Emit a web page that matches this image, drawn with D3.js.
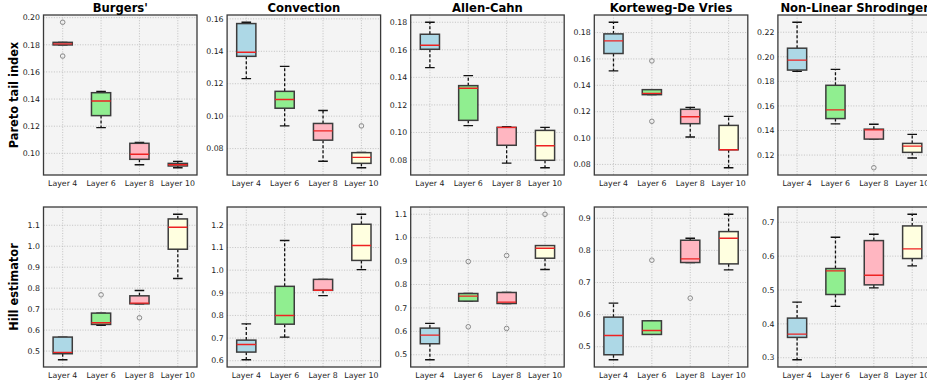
<!DOCTYPE html>
<html><head><meta charset="utf-8">
<script src="https://cdn.jsdelivr.net/npm/d3@7"></script>
<style>body{margin:0;background:#fff}svg{display:block;font-family:"DejaVu Sans",sans-serif}</style>
</head><body>
<script>
const problems = ["Burgers'", "Convection", "Allen-Cahn", "Korteweg-De Vries", "Non-Linear Shrodinger"];
const layers = ["Layer 4", "Layer 6", "Layer 8", "Layer 10"];
const metrics = ["Pareto tail index", "Hill estimator"];
const boxColors = ["#add8e6", "#90ee90", "#ffb6c1", "#ffffe0"];

// Pareto tail index: [problem][layer]
const paretoLo  = [[0.1799,0.1189,0.0916,0.0894],[0.1231,0.0940,0.0722,0.0682],[0.1471,0.1049,0.0778,0.0744],[0.1509,0.1329,0.1008,0.0775],[0.1881,0.1454,0.1330,0.1176]];
const paretoQ1  = [[0.1799,0.1278,0.0956,0.0907],[0.1369,0.1049,0.0852,0.0709],[0.1604,0.1088,0.0907,0.0798],[0.1641,0.1329,0.1109,0.0911],[0.1892,0.1497,0.1330,0.1222]];
const paretoMed = [[0.1807,0.1386,0.0993,0.0916],[0.1394,0.1103,0.0909,0.0746],[0.1633,0.1321,0.1037,0.0904],[0.1737,0.1339,0.1162,0.0911],[0.1973,0.1568,0.1405,0.1273]];
const paretoQ3  = [[0.1818,0.1447,0.1074,0.0926],[0.1571,0.1153,0.0955,0.0775],[0.1713,0.1340,0.1037,0.1015],[0.1790,0.1367,0.1218,0.1096],[0.2070,0.1768,0.1411,0.1295]];
const paretoHi  = [[0.1818,0.1457,0.1081,0.0941],[0.1579,0.1307,0.1035,0.0777],[0.1800,0.1413,0.1042,0.1037],[0.1878,0.1367,0.1233,0.1165],[0.2281,0.1897,0.1451,0.1368]];
const paretoOut = [[[0.1966,0.1717],[],[],[]],[[],[],[],[0.0940]],[[],[],[],[]],[[],[0.1585,0.1127],[],[]],[[],[],[0.1097],[]]];

// Hill estimator: [problem][layer]
const hillLo  = [[0.4587,0.6222,0.7254,0.8460],[0.6044,0.7042,0.8875,1.0020],[0.4787,0.7289,0.7189,0.8640],[0.4596,0.5383,0.7622,0.7394],[0.2941,0.4514,0.5064,0.5713]];
const hillQ1  = [[0.4873,0.6270,0.7254,0.9857],[0.6382,0.7614,0.9110,1.0430],[0.5469,0.7289,0.7189,0.9123],[0.4751,0.5383,0.7622,0.7580],[0.3600,0.4867,0.5152,0.5929]];
const hillMed = [[0.4937,0.6349,0.7286,1.0905],[0.6719,0.7995,0.9110,1.1090],[0.5839,0.7502,0.7246,0.9550],[0.5352,0.5508,0.7736,0.8378],[0.3698,0.5565,0.5437,0.6214]];
const hillQ3  = [[0.5667,0.6810,0.7635,1.1302],[0.6910,0.9286,0.9594,1.2029],[0.6137,0.7616,0.7659,0.9663],[0.5922,0.5808,0.8316,0.8585],[0.4170,0.5634,0.6459,0.6892]];
const hillHi  = [[0.5667,0.6810,0.7889,1.1524],[0.7629,1.1311,0.9594,1.2469],[0.6336,0.7616,0.7659,0.9663],[0.6358,0.5808,0.8378,0.9124],[0.4641,0.6558,0.6646,0.7236]];
const hillOut = [[[],[0.7683],[0.6587],[]],[[],[],[],[]],[[],[0.8981,0.6194],[0.9237,0.6123],[1.1]],[[],[0.7694],[0.6513],[]],[[],[],[],[]]];

// tick values per panel
const paretoTicks = [[0.10,0.12,0.14,0.16,0.18,0.20],[0.08,0.10,0.12,0.14,0.16],[0.08,0.10,0.12,0.14,0.16,0.18],[0.08,0.10,0.12,0.14,0.16,0.18],[0.12,0.14,0.16,0.18,0.20,0.22]];
const hillTicks = [[0.5,0.6,0.7,0.8,0.9,1.0,1.1],[0.6,0.7,0.8,0.9,1.0,1.1,1.2],[0.5,0.6,0.7,0.8,0.9,1.0,1.1],[0.5,0.6,0.7,0.8,0.9],[0.3,0.4,0.5,0.6,0.7]];

const W = 927, H = 385;
const svg = d3.select("body").append("svg").attr("width", W).attr("height", H);

const rows = [
  {lo: paretoLo, q1: paretoQ1, med: paretoMed, q3: paretoQ3, hi: paretoHi, out: paretoOut, ticks: paretoTicks, fmt: d3.format(".2f"), top: 15, bottom: 175},
  {lo: hillLo, q1: hillQ1, med: hillMed, q3: hillQ3, hi: hillHi, out: hillOut, ticks: hillTicks, fmt: d3.format(".1f"), top: 207, bottom: 367}
];
const left0 = 43.5, step = 183.6, pw = 153.5;

rows.forEach((row, ri) => {
  problems.forEach((prob, pi) => {
    const x0 = left0 + pi * step;
    const g = svg.append("g");
    // domain like matplotlib autoscale (5% margin)
    const vals = [].concat(row.lo[pi], row.hi[pi], ...row.out[pi]);
    const mn = d3.min(vals), mx = d3.max(vals), pad = (mx - mn) * 0.05;
    const y = d3.scaleLinear().domain([mn - pad, mx + pad]).range([row.bottom, row.top]);
    const x = d3.scaleLinear().domain([0.5, 4.5]).range([x0, x0 + pw]);
    const band = x(1.25) - x(1);

    g.append("rect").attr("x", x0).attr("y", row.top).attr("width", pw).attr("height", row.bottom - row.top).attr("fill", "#f4f4f4");

    // grid
    const clipId = `c${ri}${pi}`;
    g.append("clipPath").attr("id", clipId).append("rect").attr("x", x0).attr("y", row.top).attr("width", pw).attr("height", row.bottom - row.top);
    const grid = g.append("g").attr("clip-path", `url(#${clipId})`);
    row.ticks[pi].forEach(t => {
      grid.append("line").attr("x1", x0).attr("x2", x0 + pw).attr("y1", y(t)).attr("y2", y(t))
        .attr("stroke", "#b5b5b5").attr("stroke-width", 0.8).attr("stroke-dasharray", "1,1.6");
    });
    layers.forEach((l, li) => {
      grid.append("line").attr("x1", x(li + 1)).attr("x2", x(li + 1)).attr("y1", row.top).attr("y2", row.bottom)
        .attr("stroke", "#b5b5b5").attr("stroke-width", 0.8).attr("stroke-dasharray", "1,1.6");
    });

    // boxes
    const marks = g.append("g").attr("clip-path", `url(#${clipId})`);
    layers.forEach((l, li) => {
      const cx = x(li + 1);
      const bw = band * 2; // box width 0.5
      const cw = band;     // cap width 0.25
      const lo = row.lo[pi][li], q1 = row.q1[pi][li], med = row.med[pi][li], q3 = row.q3[pi][li], hi = row.hi[pi][li];
      // whiskers
      marks.append("line").attr("x1", cx).attr("x2", cx).attr("y1", y(q3)).attr("y2", y(hi))
        .attr("stroke", "#111").attr("stroke-width", 1.3).attr("stroke-dasharray", "3,2");
      marks.append("line").attr("x1", cx).attr("x2", cx).attr("y1", y(q1)).attr("y2", y(lo))
        .attr("stroke", "#111").attr("stroke-width", 1.3).attr("stroke-dasharray", "3,2");
      // caps
      [lo, hi].forEach(v => marks.append("line").attr("x1", cx - cw / 2).attr("x2", cx + cw / 2).attr("y1", y(v)).attr("y2", y(v))
        .attr("stroke", "#111").attr("stroke-width", 1.3));
      // box
      marks.append("rect").attr("x", cx - bw / 2).attr("y", y(q3)).attr("width", bw).attr("height", Math.max(0.01, y(q1) - y(q3)))
        .attr("fill", boxColors[li]).attr("stroke", "#3c3c3c").attr("stroke-width", 1.5);
      // median
      marks.append("line").attr("x1", cx - bw / 2).attr("x2", cx + bw / 2).attr("y1", y(med)).attr("y2", y(med))
        .attr("stroke", "#ee2222").attr("stroke-width", 1.4);
      // outliers
      row.out[pi][li].forEach(v => marks.append("circle").attr("cx", cx).attr("cy", y(v)).attr("r", 2.3)
        .attr("fill", "none").attr("stroke", "#8a8a8a").attr("stroke-width", 1));
    });

    // frame
    g.append("rect").attr("x", x0).attr("y", row.top).attr("width", pw).attr("height", row.bottom - row.top)
      .attr("fill", "none").attr("stroke", "#3a3a3a").attr("stroke-width", 1.3);

    // y tick labels
    row.ticks[pi].forEach(t => {
      g.append("text").attr("x", x0 - 3.5).attr("y", y(t)).attr("dy", "0.35em").attr("text-anchor", "end")
        .attr("font-size", 7.8).attr("fill", "#222").text(row.fmt(t));
    });
    // x tick labels
    layers.forEach((l, li) => {
      g.append("text").attr("x", x(li + 1)).attr("y", row.bottom + 11).attr("text-anchor", "middle")
        .attr("font-size", 7.8).attr("fill", "#222").text(l);
    });

    if (ri === 0) {
      g.append("text").attr("x", x0 + pw / 2).attr("y", 12).attr("text-anchor", "middle")
        .attr("font-size", 11.6).attr("font-weight", "bold").attr("fill", "#000").text(prob);
    }
  });
  const cy = (row.top + row.bottom) / 2;
  svg.append("text").attr("transform", `translate(17.5,${cy}) rotate(-90)`).attr("text-anchor", "middle")
    .attr("font-size", 11.4).attr("font-weight", "bold").attr("fill", "#000").text(metrics[ri]);
});
</script>
</body></html>
